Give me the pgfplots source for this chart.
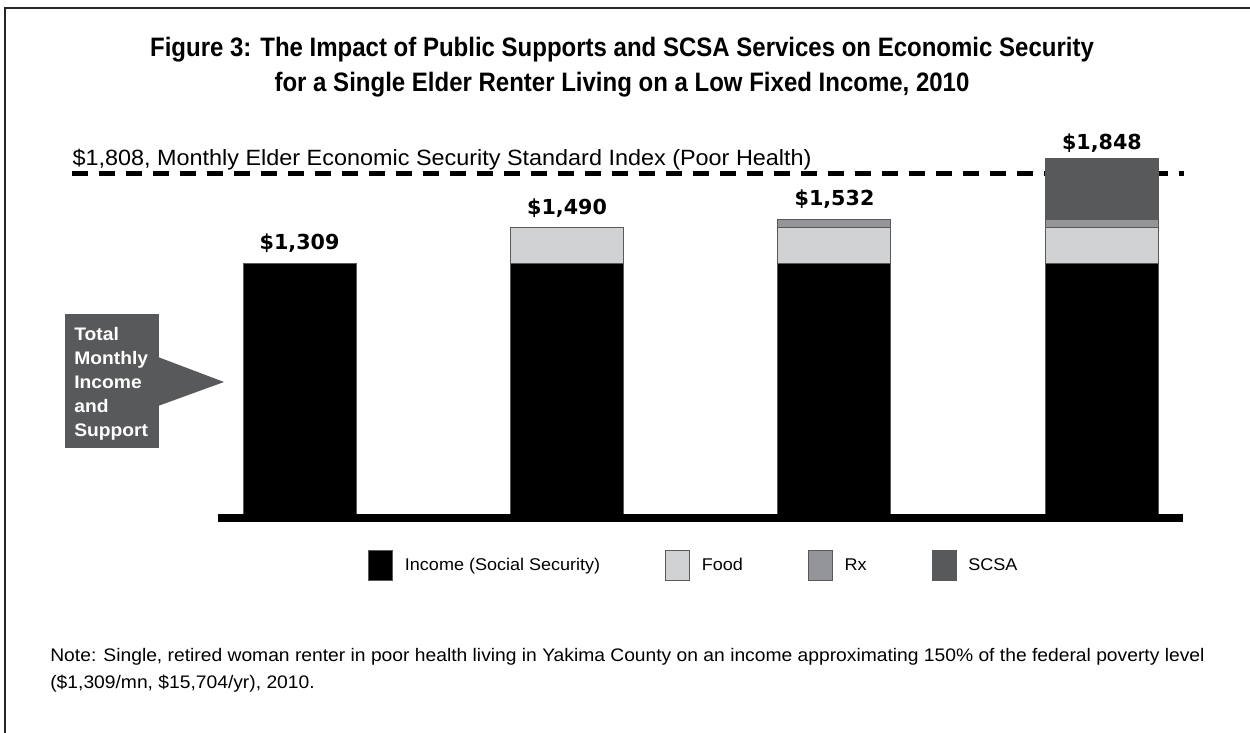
\documentclass[border=0pt]{standalone}
\usepackage{fontspec}
\setmainfont{Liberation Sans}[FakeStretch=1.06]
\newfontfamily\titlefont{Liberation Sans}[FakeStretch=0.9]
\newfontfamily\valfont{DejaVu Sans}
\usepackage{pgfplots}
\pgfplotsset{compat=1.18}
\definecolor{inc}{HTML}{000000}
\definecolor{food}{HTML}{D1D2D4}
\definecolor{rx}{HTML}{939598}
\definecolor{scsa}{HTML}{58595B}
\pgfplotsset{mybar/.style={ybar, bar width=67.8pt, bar shift=0pt, draw=black!65, line width=0.6pt, forget plot}}
\begin{document}
\begin{tikzpicture}[x=0.6pt,y=-0.6pt]
\useasboundingbox (0,0) rectangle (1250,733);
\draw[line width=1.2pt, black!85] (5,733) -- (5,8) -- (1250,8);
% title
\node[anchor=base, inner sep=0, font=\titlefont\bfseries\fontsize{16}{19}\selectfont] at (622,57) {Figure 3: The Impact of Public Supports and SCSA Services on Economic Security};
\node[anchor=base, inner sep=0, font=\titlefont\bfseries\fontsize{16}{19}\selectfont] at (622,92) {for a Single Elder Renter Living on a Low Fixed Income, 2010};
\begin{axis}[
  at={(130.8pt,-310.8pt)}, anchor=south west,
  scale only axis, width=579pt, height=233.76pt,
  xmin=-0.305, xmax=3.303, ymin=0, ymax=2000,
  enlargelimits=false, clip=false, hide axis,
  legend image code/.code={\draw[#1] (0pt,-9pt) rectangle (14.4pt,9pt);},
  legend style={at={(0.4938,-0.123)}, anchor=center, draw=none, fill=none,
    legend columns=4, font=\fontsize{10.2}{12}\selectfont,
    /tikz/every odd column/.append style={column sep=5pt},
    /tikz/every even column/.append style={column sep=37pt}},
]
\addlegendimage{fill=inc, draw=black!65, line width=0.6pt}
\addlegendentry{Income (Social Security)}
\addlegendimage{fill=food, draw=black!65, line width=0.6pt}
\addlegendentry{Food}
\addlegendimage{fill=rx, draw=black!65, line width=0.6pt}
\addlegendentry{Rx}
\addlegendimage{fill=scsa, draw=black!65, line width=0.6pt}
\addlegendentry{SCSA}
% reference line: monthly elder economic security standard index
\addplot[forget plot, black, line width=3pt, dash pattern=on 9.6pt off 6.6pt] coordinates {(-0.850,1766) (3.307,1766)};
% cumulative totals, drawn tallest first
\addplot[mybar, fill=scsa] coordinates {(3,1848)};
\addplot[mybar, fill=rx] coordinates {(2,1532) (3,1532)};
\addplot[mybar, fill=food] coordinates {(1,1490) (2,1490) (3,1490)};
\addplot[mybar, fill=inc] coordinates {(0,1309) (1,1309) (2,1309) (3,1309)};
\node[anchor=base west, inner sep=0, font=\fontsize{13.25}{15}\selectfont] at (axis cs:-0.850,1766) [yshift=4.8pt] {\$1,808, Monthly Elder Economic Security Standard Index (Poor Health)};
\node[anchor=base, inner sep=0, font=\valfont\bfseries\fontsize{12.4}{14}\selectfont, yshift=8.2pt] at (axis cs:0,1309) {\$1,309};
\node[anchor=base, inner sep=0, font=\valfont\bfseries\fontsize{12.4}{14}\selectfont, yshift=8.2pt] at (axis cs:1,1490) {\$1,490};
\node[anchor=base, inner sep=0, font=\valfont\bfseries\fontsize{12.4}{14}\selectfont, yshift=8.2pt] at (axis cs:2,1532) {\$1,532};
\node[anchor=base, inner sep=0, font=\valfont\bfseries\fontsize{12.4}{14}\selectfont, yshift=5.4pt] at (axis cs:3,1848) {\$1,848};
\draw[line width=4.8pt, black] (rel axis cs:0,0) -- (rel axis cs:1,0);
\end{axis}
% callout
\fill[scsa] (65,314) rectangle (159,448);
\fill[scsa] (158,357) -- (224,382) -- (158,406) -- cycle;
\foreach \t [count=\i from 0] in {Total,Monthly,Income,and,Support}
  \node[anchor=base west, inner sep=0, text=white, font=\bfseries\fontsize{10.9}{14}\selectfont] at (74,340+24*\i) {\t};
% note
\node[anchor=base west, inner sep=0, font=\fontsize{10.9}{12}\selectfont] at (50,661) {Note: Single, retired woman renter in poor health living in Yakima County on an income approximating 150\% of the federal poverty level};
\node[anchor=base west, inner sep=0, font=\fontsize{10.9}{12}\selectfont] at (50,688) {(\$1,309/mn, \$15,704/yr), 2010.};
\end{tikzpicture}
\end{document}
